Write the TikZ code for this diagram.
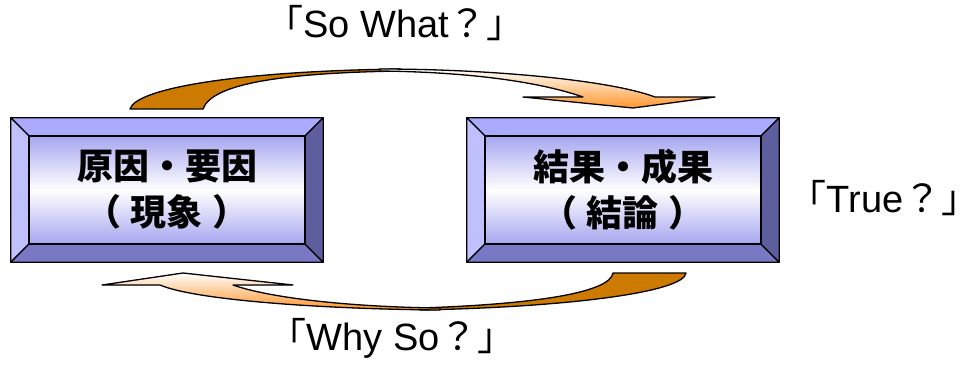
\documentclass[tikz,border=0pt]{standalone}
\usepackage{fontspec}
\setmainfont{Liberation Sans}
\newfontfamily\jp{Noto Sans CJK JP}
\usetikzlibrary{calc}
\definecolor{bevtop}{RGB}{170,170,255}
\definecolor{bevleft}{RGB}{192,192,255}
\definecolor{bevbot}{RGB}{120,120,196}
\definecolor{bevright}{RGB}{94,94,158}
\definecolor{innerpurple}{RGB}{166,166,240}
\definecolor{darkor}{RGB}{204,122,0}
\definecolor{lightor}{RGB}{255,150,45}
\newcommand\openbr{\makebox[0.55em][r]{\jp 「}}
\newcommand\closebr{\makebox[0.55em][l]{\jp 」}}
\tikzset{
  outline/.style={draw=black, line width=1.3pt, line join=round},
  bev/.style={outline},
  innerbox/.style={outline, minimum width=276pt, minimum height=108pt, inner sep=0pt,
     top color=innerpurple, bottom color=innerpurple, middle color=white},
  boxtext/.style={align=center, font=\jp\bfseries\fontsize{36}{46}\selectfont},
  lbl/.style={anchor=base, inner sep=0pt, font=\fontsize{38}{40}\selectfont},
  darkpart/.style={outline, fill=darkor},
  lightpart/.style={outline, top color=white, bottom color=lightor}
}
\newcommand\bevelbox[5]{%
  \node[minimum width=312pt, minimum height=144pt, inner sep=0pt] (#1) at (#2,#3) {};
  \filldraw[bev, fill=bevtop] (#1.north west) -- (#1.north east) -- ++(-18,18) -- ($(#1.north west)+(18,18)$) -- cycle;
  \filldraw[bev, fill=bevleft] (#1.north west) -- ($(#1.north west)+(18,18)$) -- ($(#1.south west)+(18,-18)$) -- (#1.south west) -- cycle;
  \filldraw[bev, fill=bevbot] (#1.south west) -- ($(#1.south west)+(18,-18)$) -- ($(#1.south east)+(-18,-18)$) -- (#1.south east) -- cycle;
  \filldraw[bev, fill=bevright] (#1.north east) -- (#1.south east) -- ($(#1.south east)+(-18,-18)$) -- ($(#1.north east)+(-18,18)$) -- cycle;
  \node[innerbox] (#1in) at (#1) {};
  \node[boxtext] (#1txt) at (#1) {#4\\（\hspace{10pt}#5\hspace{10pt}）};
}
\begin{document}
\begin{tikzpicture}[x=1pt,y=-1pt]
\useasboundingbox (0,0) rectangle (966,365);
\bevelbox{cause}{167}{190}{原因・要因}{現象}
\bevelbox{result}{623}{190}{結果・成果}{結論}
% top arrow (So What)
\filldraw[darkpart] (130,109) .. controls (136,88) and (240,71) .. (400,69)
   -- (400,71) .. controls (280,73) and (212,84) .. (203,109) -- cycle;
\filldraw[lightpart] (380,69) .. controls (490,69) and (610,80) .. (655,97)
   -- (715,97) -- (633,108) -- (523,97) -- (583,97)
   .. controls (540,82) and (470,72) .. (380,71) -- cycle;
% bottom arrow (Why So)
\filldraw[darkpart] (613,273) -- (686,273) .. controls (684,292) and (570,307) .. (420,310)
   -- (420,308) .. controls (540,304) and (610,292) .. (613,273) -- cycle;
\filldraw[lightpart] (440,310) .. controls (320,309) and (195,300) .. (160,285)
   -- (102,285) -- (183,273) -- (293,285) -- (233,285)
   .. controls (270,298) and (350,307) .. (440,308) -- cycle;
% labels
\node[lbl] (sowhat) at (395,37) {\openbr So What{\jp ？}\closebr};
\node[lbl] (true) at (884,212) {\openbr True{\jp ？}\closebr};
\node[lbl] (whyso) at (392,350) {\openbr Why So{\jp ？}\closebr};
\end{tikzpicture}
\end{document}
